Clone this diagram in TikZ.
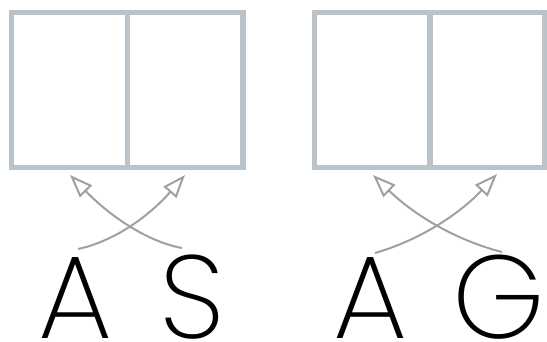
\documentclass[tikz,border=0pt]{standalone}
\usepackage{fontspec}
\setmainfont{Poppins}[UprightFont={* ExtraLight}]
\usetikzlibrary{arrows.meta}
\definecolor{boxgray}{HTML}{BAC2CA}
\definecolor{arrgray}{HTML}{A0A0A0}
\begin{document}
\begin{tikzpicture}[x=1pt,y=-1pt,
  cell/.style={draw=boxgray,line width=5.3pt,minimum width=115.5pt,minimum height=154.8pt,inner sep=0pt},
  letter/.style={font=\fontsize{118}{118}\selectfont,anchor=base,inner sep=0pt,text=black},
  arr/.style={draw=arrgray,line width=2pt,-{Triangle[open,length=23pt,width=17pt,line width=2pt]}}]
\useasboundingbox (0,0) rectangle (547,342);
% boxes
\node[cell] (l1) at (69.5,90) {};
\node[cell] (l2) at (185.2,90) {};
\node[cell] (r1) at (372.2,90) {};
\node[cell] (r2) at (487.2,90) {};
% letters
\node[letter] (a1) at (75,338) {A};
\node[letter] (s1) at (192,338) {S};
\node[letter] (a2) at (370,338) {A};
\node[letter] (g2) at (499,338) {G};
% arrows
\coordinate (a1s) at (78,249);
\coordinate (s1s) at (182,248);
\coordinate (a2s) at (375,253);
\coordinate (g2s) at (502,252);
\coordinate (l1t) at (70,175);
\coordinate (l2t) at (185,175);
\coordinate (r1t) at (373,175);
\coordinate (r2t) at (497,174);
\draw[arr] (a1s) .. controls (111.7,242) and (147.3,218.2) .. (l2t);
\draw[arr] (s1s) .. controls (150,242.3) and (112.7,218.8) .. (l1t);
\draw[arr] (a2s) .. controls (417,241) and (457.7,215.8) .. (r2t);
\draw[arr] (g2s) .. controls (458.3,241) and (415.3,216.2) .. (r1t);
\end{tikzpicture}
\end{document}
